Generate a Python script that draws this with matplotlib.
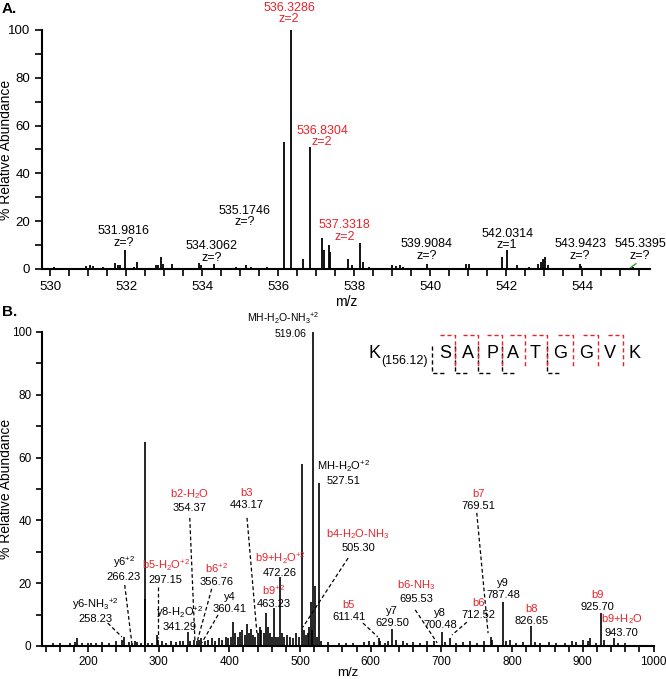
import numpy as np
import matplotlib.pyplot as plt

plt.rcParams['font.family'] = ['Liberation Sans', 'DejaVu Sans']
plt.rcParams['mathtext.fontset'] = 'custom'
plt.rcParams['mathtext.rm'] = 'Liberation Sans'
plt.rcParams['mathtext.it'] = 'Liberation Sans:italic'
plt.rcParams['mathtext.bf'] = 'Liberation Sans:bold'

RED = '#e8232b'
W, H = 666, 679

# ---- Panel A: precursor isotope envelope ----
a_mz = [530.1, 530.95, 531.05, 531.12, 531.4, 531.72, 531.78, 531.85, 531.98, 532.2,
        532.3, 532.78, 532.85, 532.92, 532.98, 533.2, 533.92, 533.98, 534.31, 534.9,
        535.15, 535.3, 535.7, 536.16, 536.33, 536.67, 536.83, 537.17, 537.22, 537.33,
        537.38, 537.83, 537.95, 538.17, 538.25, 538.4, 539.0, 539.1, 539.2, 539.3,
        539.91, 540.95, 541.02, 541.9, 542.03, 542.3, 542.6, 542.85, 542.92, 542.97,
        543.03, 543.1, 543.94, 543.98, 545.34]
a_int = [0.8, 1.2, 1.5, 1.2, 0.8, 2.5, 1.8, 1.5, 8, 1,
         3, 1.5, 1.5, 5, 2, 2, 2.5, 1.5, 2, 1,
         1.5, 1, 0.8, 53, 100, 4, 51, 13, 8, 10,
         7, 4, 1.5, 11, 3, 0.8, 1.5, 1.2, 1.5, 0.8,
         2, 2, 2, 5, 8, 1.5, 0.8, 2, 3, 4,
         5, 1.5, 2, 1.2, 1]

a_labels = ['531.9816', '534.3062', '535.1746', '536.3286', '536.8304',
            '537.3318', '539.9084', '542.0314', '543.9423', '545.3395']
a_charge = ['?', '?', '?', '2', '2', '2', '?', '1', '?', '?']
# label anchor (x centre, bottom) in data units
a_lab_x = [531.93, 534.26, 535.13, 536.29, 537.16, 537.76, 539.92, 542.03, 543.95, 545.53]
a_lab_y = [8.4, 2.1, 17, 102, 50.6, 11, 3, 7.5, 3, 3]

# ---- Panel B: MS/MS spectrum ----
b_mz = [150, 160, 175, 182, 185, 192, 200, 205, 212, 220, 230, 240, 248, 251, 258, 262,
        266, 270, 275, 280, 281, 285, 290, 297, 299, 305, 310, 318, 325, 330, 335, 341,
        345, 350, 354, 357, 360, 365, 370, 375, 380, 385, 390, 395, 398, 402, 405, 408,
        412, 415, 418, 422, 425, 428, 430, 433, 437, 440, 443, 445, 449, 452, 455, 458,
        460, 463, 466, 469, 472, 475, 478, 482, 486, 490, 495, 498, 503, 505, 508, 511,
        513, 515, 517, 519, 521, 524, 527.5, 530, 540, 555, 565, 575, 590, 598, 605, 611,
        613, 620, 625, 629.5, 636, 645, 652, 660, 670, 680, 690, 700.5, 705, 712.5, 720,
        730, 740, 750, 760, 769.5, 771, 787.5, 792, 797, 805, 815, 826.6, 832, 840, 852,
        862, 875, 885, 890, 900, 907, 910, 918, 925.7, 930, 943.7, 950, 960]
b_int = [1, 0.8, 1, 1.2, 2.5, 1, 0.8, 1, 0.8, 1.2, 1, 1.5, 2, 3, 1.2, 1,
         1.5, 1.2, 0.8, 15, 65, 1, 1, 3.5, 2, 1.5, 1, 1.5, 1.2, 1.5, 1.5, 4.5,
         1.5, 2, 1.5, 2, 2.5, 1.5, 2, 2.5, 1.5, 2.5, 2, 3, 2.5, 3, 7.5, 4,
         3, 4.5, 5, 3.5, 7, 4, 5.5, 3.5, 3, 4, 6, 5, 4, 10.5, 6, 4,
         3, 12, 3, 3, 22, 4, 3, 3.5, 3, 2.5, 4, 3, 58, 5, 3.5, 4,
         6, 14, 5, 100, 19, 3, 52, 1.5, 1.2, 1, 1, 0.8, 1.2, 1.5, 1.2, 2.5,
         1.5, 1, 1.5, 5.5, 2, 1.5, 1, 1.2, 1, 1.5, 1.5, 4.6, 1.2, 2.5, 1,
         1.2, 1.5, 1, 1.5, 3, 2, 14, 1.5, 2, 1, 1.2, 6.5, 1.2, 1, 1.2,
         1, 1, 1.5, 1.2, 2, 1.5, 2.5, 1, 10.5, 2, 2.5, 0.8, 0.8]

b_names = [r'b2-H$_\mathregular{2}$O', 'b3', 'b7', r'y6$^\mathregular{+2}$',
           r'y6-NH$_\mathregular{3}$$^\mathregular{+2}$', r'b5-H$_\mathregular{2}$O$^\mathregular{+2}$',
           r'b6$^\mathregular{+2}$', 'y4', r'y8-H$_\mathregular{2}$O$^\mathregular{+2}$',
           r'b9+H$_\mathregular{2}$O$^\mathregular{+2}$', r'b9$^\mathregular{+2}$',
           r'b4-H$_\mathregular{2}$O-NH$_\mathregular{3}$', 'b5', 'y7',
           r'b6-NH$_\mathregular{3}$', 'y8', 'b6', 'y9', 'b8', 'b9', r'b9+H$_\mathregular{2}$O']
b_values = ['354.37', '443.17', '769.51', '266.23', '258.23', '297.15', '356.76', '360.41',
            '341.29', '472.26', '463.23', '505.30', '611.41', '629.50', '695.53', '700.48',
            '712.52', '787.48', '826.65', '925.70', '943.70']
b_is_b = [True, True, True, False, False, True, True, False, False, True, True, True,
          True, False, True, False, True, False, True, True, True]
# text anchor (centre, bottom) and leader line (start -> end), data units
b_txt_x = [344, 425, 752, 251, 210, 310, 382, 401, 330, 472, 463, 582, 569, 630, 664, 698,
           752, 787, 828, 921, 955]
b_txt_y = [42.4, 43.3, 43, 20.4, 7, 19.4, 18.8, 10.2, 4.5, 21.7, 11.8, 29.6, 7.6, 5.7,
           13.4, 5.1, 8.3, 14.6, 6.4, 10.8, 2.5]
b_lines = [((344, 40.8), (351.4, 1.3)), ((425, 40.8), (439, 4.1)), ((750, 42.4), (766, 4.1)),
           ((252, 19.4), (262, 1)), ((228, 7.3), (248, 2.9)), ((299, 18.8), (299, 2.5)),
           ((375, 18.2), (354, 1)), ((384, 9.9), (361, 1)), None, None, None,
           ((568, 28), (504, 6)), ((589, 7.3), (610, 2.9)), None,
           ((663, 11.5), (694, 1)), None, ((736, 7.6), (715, 3.5)), None, None, None, None]

seq = ['S', 'A', 'P', 'A', 'T', 'G', 'G', 'V', 'K']
y_gaps = [0, 1, 2, 3, 5]          # y9, y8, y7, y6, y4
b_gaps = [1, 2, 3, 4, 5, 6, 7, 8]  # b2 .. b9


def fx(px):
    return px / W


def fy(py):
    return 1 - py / H


def style_axes(ax, size):
    for s in ['top', 'right']:
        ax.spines[s].set_visible(False)
    for s in ['left', 'bottom']:
        ax.spines[s].set_linewidth(1.5)
    ax.tick_params(which='both', direction='out', length=5, width=1.2, labelsize=size)


fig = plt.figure(figsize=(W / 100, H / 100), dpi=100)

# ---------- A ----------
axA = fig.add_axes([fx(42), fy(269), fx(650 - 42), (269 - 30) / H])
axA.vlines(a_mz, 0, a_int, color='black', lw=1.3)
axA.set_xlim(529.79, 545.79)
axA.set_ylim(0, 100)
axA.set_xticks(np.arange(530, 546, 2))
axA.set_xticks(np.arange(530, 546, 0.5), minor=True)
axA.set_yticks(np.arange(0, 101, 20))
axA.set_yticks(np.arange(10, 100, 20), minor=True)
style_axes(axA, 9.5)
axA.set_ylabel('% Relative Abundance', fontsize=10)
axA.yaxis.set_label_coords(-0.048, 0.5)
axA.set_xlabel('m/z', fontsize=10)
axA.xaxis.set_label_coords(0.5, -0.11)
for lab, z, x, y in zip(a_labels, a_charge, a_lab_x, a_lab_y):
    col = RED if z == '2' else 'black'
    axA.text(x, y, f'{lab}\nz={z}', ha='center', va='bottom', fontsize=9,
             color=col, linespacing=0.95, clip_on=False)
axA.plot([545.28, 545.42], [0.6, 2.2], color='#2ca02c', lw=1)

# ---------- B ----------
axB = fig.add_axes([fx(42), fy(646), (653.5 - 42) / W, (646 - 332) / H])
axB.vlines(b_mz, 0, b_int, color='black', lw=1.2)
axB.set_xlim(135, 1000)
axB.set_ylim(0, 100)
axB.set_xticks(np.arange(200, 1001, 100))
axB.set_xticks(np.arange(140, 1001, 20), minor=True)
axB.set_yticks(np.arange(0, 101, 20))
axB.set_yticks(np.arange(10, 100, 20), minor=True)
style_axes(axB, 8.5)
axB.tick_params(which='both', length=4)
axB.set_ylabel('% Relative Abundance', fontsize=10)
axB.yaxis.set_label_coords(-0.048, 0.5)
axB.set_xlabel('m/z', fontsize=9.5)
axB.xaxis.set_label_coords(0.5, -0.066)

for name, val, isb, x, y, ln in zip(b_names, b_values, b_is_b, b_txt_x, b_txt_y, b_lines):
    axB.text(x, y, val, ha='center', va='bottom', fontsize=8, color='black')
    axB.annotate(name, xy=(x, y), xytext=(0, 8.5), textcoords='offset points',
                 ha='center', va='bottom', fontsize=8, color=RED if isb else 'black')
    if ln is not None:
        axB.plot([ln[0][0], ln[1][0]], [ln[0][1], ln[1][1]], color='black',
                 lw=0.9, ls=(0, (3, 2)))

# precursor labels
axB.text(487, 97.8, '519.06', ha='center', va='bottom', fontsize=7.5)
axB.annotate(r'MH-H$_\mathregular{2}$O-NH$_\mathregular{3}$$^\mathregular{+2}$', xy=(476, 97.8),
             xytext=(0, 9), textcoords='offset points', ha='center', va='bottom',
             fontsize=7.5, annotation_clip=False)
axB.text(537, 51, '527.51', ha='left', va='bottom', fontsize=8)
axB.annotate(r'MH-H$_\mathregular{2}$O$^\mathregular{+2}$', xy=(524.5, 51), xytext=(0, 8.5),
             textcoords='offset points', ha='left', va='bottom', fontsize=8)

# sequence coverage inset (figure pixels)
letter_x = [445, 468, 492, 513, 535, 560, 586, 610, 634]
gap_x = [431.7, 455, 478, 501.7, 525, 546.7, 573, 598, 623.3]
fig.text(fx(375), fy(353), 'K', fontsize=13, ha='center', va='center')
fig.text(fx(404), fy(361), '(156.12)', fontsize=9, ha='center', va='center')
for ch, x in zip(seq, letter_x):
    fig.text(fx(x), fy(353), ch, fontsize=13, ha='center', va='center')
dash = (0, (3, 2))
for g in y_gaps:
    x = gap_x[g]
    fig.add_artist(plt.Line2D([fx(x), fx(x), fx(x + 13)], [fy(346), fy(373), fy(373)],
                              color='black', lw=1, ls=dash))
for g in b_gaps:
    x = gap_x[g]
    fig.add_artist(plt.Line2D([fx(x - 15), fx(x), fx(x)], [fy(335), fy(335), fy(366)],
                              color=RED, lw=1, ls=dash))

fig.text(fx(2), fy(9), 'A.', fontsize=11, fontweight='bold', va='center')
fig.text(fx(2), fy(312), 'B.', fontsize=11, fontweight='bold', va='center')

fig.savefig('out.png', dpi=100)
